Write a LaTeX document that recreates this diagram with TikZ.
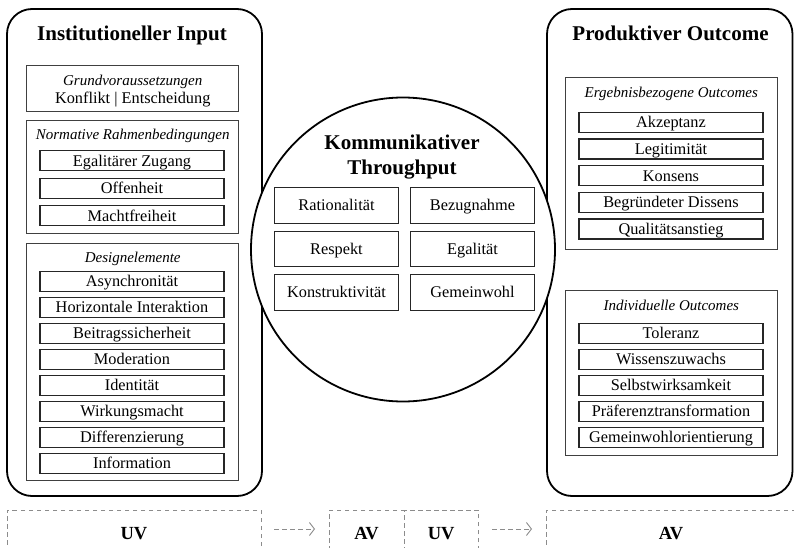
\documentclass[tikz,border=0pt]{standalone}
\usepackage{fontspec}
\setmainfont{Liberation Serif}
\usepackage{tikz}
\usetikzlibrary{positioning,shapes,arrows.meta}

\tikzset{
  bigbox/.style={draw, line width=1.8pt, rounded corners=25pt, fill=white},
  headtext/.style={font=\bfseries\fontsize{21}{24}\selectfont, inner sep=0pt, text height=14.2pt, text depth=0pt},
  groupbox/.style={draw=black!75, line width=1pt, minimum width=212pt, fill=white},
  grouptitle/.style={font=\itshape\fontsize{15}{18}\selectfont, inner sep=0pt, text height=9.9pt, text depth=0pt},
  itembox/.style={draw=black!85, line width=1.3pt, minimum width=184pt, minimum height=20pt, inner sep=0pt, outer sep=0pt, font=\fontsize{16.3}{19}\selectfont, text height=10.8pt, text depth=0pt},
  thrubox/.style={itembox, minimum width=124pt, minimum height=35.5pt},
  varbox/.style={draw=black!45, line width=0.9pt, dash pattern=on 4.5pt off 3.5pt, minimum height=46pt, inner sep=0pt, outer sep=0pt, font=\bfseries\fontsize{18.5}{21}\selectfont, text height=12.5pt, text depth=0pt},
  flow/.style={draw=black!45, line width=0.9pt, dash pattern=on 4.5pt off 3.5pt, -{Straight Barb[length=5pt,width=13pt]}}
}

\begin{document}
\begin{tikzpicture}[x=1pt, y=-1pt]
    \useasboundingbox (0,0) rectangle (794,548);
    \clip (0,0) rectangle (794,548);

    % outer frames
    \node[bigbox, minimum width=255pt, minimum height=487pt] (input) at (134.5,252.5) {};
    \node[bigbox, minimum width=245.5pt, minimum height=487pt] (outcome) at (669.75,252.5) {};
    \node[headtext] (inputhead) at (132,33.3) {Institutioneller Input};
    \node[headtext] (outcomehead) at (670.5,33.3) {Produktiver Outcome};

    % throughput circle
    \node[circle, draw, line width=1.8pt, fill=white, minimum size=304pt, inner sep=0pt] (thru) at (403,249.5) {};
    \node[font=\bfseries\fontsize{21}{24.3}\selectfont, align=center, inner sep=0pt] (thruhead) at (402,157) {Kommunikativer\\Throughput};
    \node[thrubox] (rat) at (336.5,205.5) {Rationalität};
    \node[thrubox, below=8pt of rat] (resp) {Respekt};
    \node[thrubox, below=8pt of resp] (konst) {Konstruktivität};
    \node[thrubox, right=12pt of rat] (bezug) {Bezugnahme};
    \node[thrubox, right=12pt of resp] (egal) {Egalität};
    \node[thrubox, right=12pt of konst] (gemw) {Gemeinwohl};

    % input groups
    \node[groupbox, minimum height=45.7pt] (basis) at (132.7,88.2) {};
    \node[align=center, inner sep=0pt, font=\fontsize{16.3}{18.4}\selectfont] (basishead) at (132.7,90.9) {\textit{\fontsize{15}{18.4}\selectfont Grundvoraussetzungen}\\Konflikt | Entscheidung};

    \node[groupbox, minimum height=113pt] (norm) at (132.7,177.2) {};
    \node[grouptitle] (normhead) at (132.7,134.7) {Normative Rahmenbedingungen};
    \node[itembox] (zugang) at (132,160.7) {Egalitärer Zugang};
    \node[itembox, below=7.5pt of zugang] (offen) {Offenheit};
    \node[itembox, below=7.5pt of offen] (macht) {Machtfreiheit};

    \node[groupbox, minimum height=237pt] (design) at (132.7,362.2) {};
    \node[grouptitle] (designhead) at (132.7,257.5) {Designelemente};
    \node[itembox] (async) at (132,281.5) {Asynchronität};
    \node[itembox, below=6pt of async] (horiz) {Horizontale Interaktion};
    \node[itembox, below=6pt of horiz] (beitrag) {Beitragssicherheit};
    \node[itembox, below=6pt of beitrag] (moder) {Moderation};
    \node[itembox, below=6pt of moder] (ident) {Identität};
    \node[itembox, below=6pt of ident] (wirk) {Wirkungsmacht};
    \node[itembox, below=6pt of wirk] (diff) {Differenzierung};
    \node[itembox, below=6pt of diff] (info) {Information};

    % outcome groups
    \node[groupbox, minimum height=172.3pt] (ergebnis) at (671.3,163.8) {};
    \node[grouptitle] (ergebnishead) at (671.3,92.8) {Ergebnisbezogene Outcomes};
    \node[itembox] (akzept) at (671,122.5) {Akzeptanz};
    \node[itembox, below=6.6pt of akzept] (legit) {Legitimität};
    \node[itembox, below=6.6pt of legit] (konsens) {Konsens};
    \node[itembox, below=6.6pt of konsens] (dissens) {Begründeter Dissens};
    \node[itembox, below=6.6pt of dissens] (qualit) {Qualitätsanstieg};

    \node[groupbox, minimum height=164.7pt] (indiv) at (671.3,373.3) {};
    \node[grouptitle] (indivhead) at (671.3,305.3) {Individuelle Outcomes};
    \node[itembox] (toler) at (671,333.3) {Toleranz};
    \node[itembox, below=6pt of toler] (wissen) {Wissenszuwachs};
    \node[itembox, below=6pt of wissen] (selbst) {Selbstwirksamkeit};
    \node[itembox, below=6pt of selbst] (praef) {Präferenztransformation};
    \node[itembox, below=6pt of praef] (gemori) {Gemeinwohlorientierung};

    % variables
    \node[varbox, minimum width=254pt] (uvin) at (134,533) {UV};
    \node[varbox, minimum width=75pt] (avthru) at (366.5,533) {AV};
    \node[varbox, minimum width=74.3pt, right=0pt of avthru] (uvthru) {UV};
    \node[varbox, minimum width=250pt] (avout) at (671,533) {AV};
    \draw[flow] ([xshift=13pt,yshift=4pt]uvin.east) -- ([xshift=-14pt,yshift=4pt]avthru.west);
    \draw[flow] ([xshift=13.7pt,yshift=4pt]uvthru.east) -- ([xshift=-14pt,yshift=4pt]avout.west);
\end{tikzpicture}
\end{document}
